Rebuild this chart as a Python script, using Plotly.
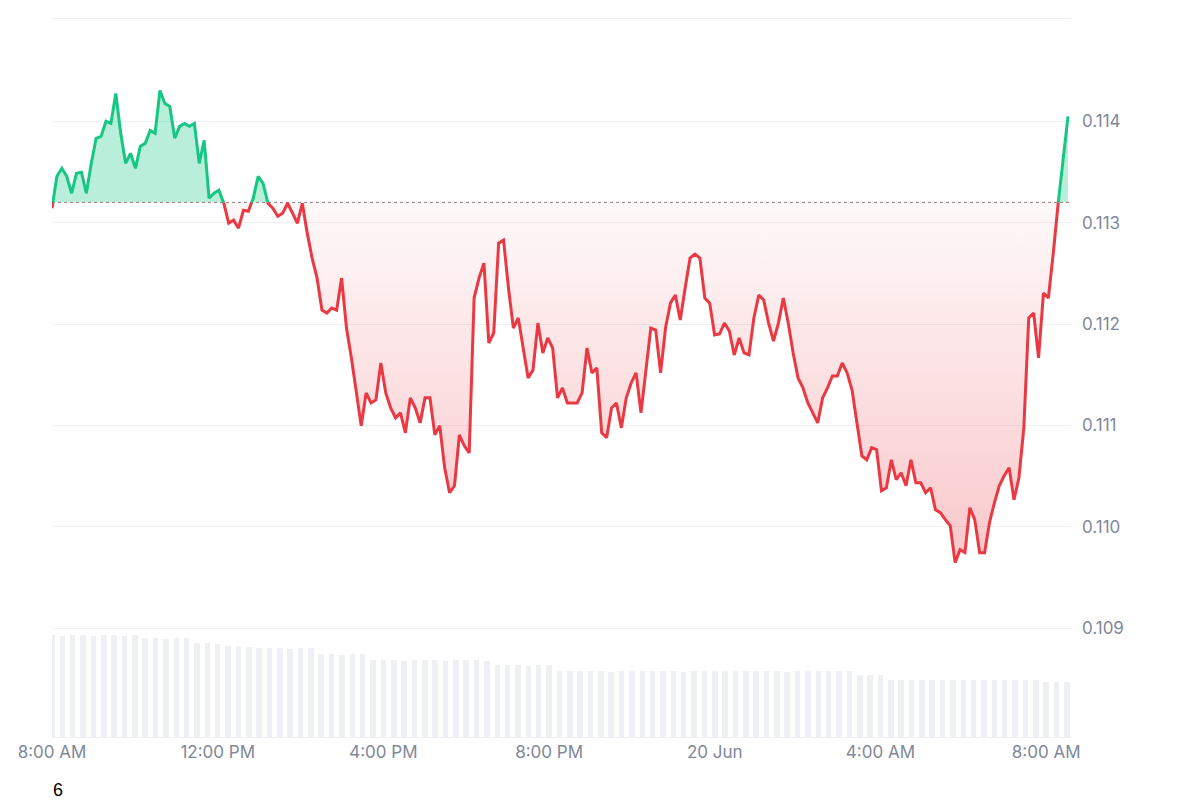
import plotly.graph_objects as go
import pandas as pd
import numpy as np

start = pd.Timestamp("2024-06-19 08:00")
end_line = pd.Timestamp("2024-06-20 08:31:40")
base_price = 0.1132

prices_e5 = [11314.3,11345.8,11353.7,11345.8,11329.1,11348.8,11349.8,11329.1,11358.6,11383.3,11385.2,11400,11398,11427.6,11388.2,11358.6,11368.5,11353.7,11375.4,11378.3,11391.1,11388.2,11430.5,11417.7,11414.8,11383.3,11395.1,11398,11395.1,11398,11358.6,11381.3,11324.2,11329.1,11332,11319.2,11299.5,11302.5,11294.6,11312.3,11311.3,11324.2,11345.8,11338.9,11319.2,11314.3,11306.4,11309.4,11319.2,11309.4,11299.5,11319.2,11289.7,11265.1,11245.4,11213.8,11210.9,11215.8,11213.8,11245.4,11196.1,11166.6,11132.1,11099.6,11132.1,11122.2,11125.2,11161.6,11132.1,11117.3,11107.5,11112.4,11092.7,11127.2,11117.3,11102.5,11127.2,11127.2,11090.7,11099.6,11058.2,11033.6,11040.5,11090.7,11079.9,11072.9,11225.7,11245.4,11260.1,11181.3,11191.2,11279.8,11282.8,11235.5,11196.1,11206,11176.4,11146.9,11154.7,11201,11171.5,11186.3,11176.4,11127.2,11137,11122.2,11122.2,11122.2,11132.1,11176.4,11151.8,11156.7,11092.7,11087.8,11117.3,11122.2,11097.6,11127.2,11141.9,11151.8,11112.4,11156.7,11196.1,11194.1,11151.8,11196.1,11220.7,11228.6,11204,11235.5,11265.1,11269,11265.1,11225.7,11220.7,11189.2,11190.2,11201,11193.2,11169.5,11186.3,11171.5,11169.5,11206,11228.6,11223.7,11201,11183.3,11201,11225.7,11201,11171.5,11146.9,11137,11122.2,11112.4,11102.5,11127.2,11137,11148.8,11148.8,11161.6,11151.8,11135,11102.5,11070,11066.1,11078,11076.1,11035.6,11038.5,11066.1,11046.4,11053.3,11040.5,11066.1,11043.4,11043.4,11033.6,11038.5,11016.8,11013.9,11007,11001.1,10964.6,10977.4,10974.5,11018.8,11007,10974.5,10974.5,11004,11023.7,11040.5,11050.3,11058.2,11026.7,11048.4,11097.6,11206,11210.9,11166.6,11230.6,11225.7,11270,11319.2,11363.6,11404.9]

volume = [102,101,102,102,101,102,102,101,102,99,99,98,99,99,94,94,93,91,91,90,89,89,89,88,89,89,83,83,82,83,83,77,77,77,76,77,77,77,76,77,77,77,76,72,72,72,71,72,72,66,66,66,66,66,65,66,66,66,66,66,66,65,66,66,66,66,66,66,66,66,66,65,66,66,66,66,66,66,62,62,62,57,57,57,57,57,57,57,57,57,57,57,57,57,57,57,55,55,55]

tick_vals = ["2024-06-19 08:00","2024-06-19 12:00","2024-06-19 16:00","2024-06-19 20:00","2024-06-20 00:00","2024-06-20 04:00","2024-06-20 08:00"]
tick_text = ["8:00 AM","12:00 PM","4:00 PM","8:00 PM","20 Jun","4:00 AM","8:00 AM"]

p = np.array(prices_e5) / 1e5
t = pd.date_range(start, end_line, periods=len(p))
ts = t.astype("int64").to_numpy().astype(float)

# insert crossing points so segments switch colour exactly at the baseline
xs, ys = [ts[0]], [p[0]]
for i in range(1, len(p)):
    a, b = p[i-1] - base_price, p[i] - base_price
    if a * b < 0:
        f = a / (a - b)
        xs.append(ts[i-1] + f * (ts[i] - ts[i-1])); ys.append(base_price)
    xs.append(ts[i]); ys.append(p[i])
xs = pd.to_datetime(np.array(xs).astype("int64"))
ys = np.array(ys)
eps = 1e-9
up = np.where(ys >= base_price - eps, ys, np.nan)
dn = np.where(ys <= base_price + eps, ys, np.nan)
upf = np.maximum(ys, base_price)
dnf = np.minimum(ys, base_price)

green = "#16c784"
red = "#ea3943"
x_end = pd.Timestamp("2024-06-20 08:36")

vt = pd.date_range(start, periods=len(volume), freq="15min")

fig = go.Figure()
fig.add_trace(go.Bar(x=vt, y=volume, yaxis="y2", marker=dict(color="rgba(207,212,222,0.35)", line=dict(width=0)), width=8*60*1000, hoverinfo="skip"))
fig.add_trace(go.Scatter(x=xs, y=[base_price]*len(xs), mode="lines", line=dict(width=0), hoverinfo="skip"))
fig.add_trace(go.Scatter(x=xs, y=upf, mode="lines", line=dict(width=0), fill="tonexty", fillcolor="rgba(22,199,132,0.3)", hoverinfo="skip"))
fig.add_trace(go.Scatter(x=xs, y=[base_price]*len(xs), mode="lines", line=dict(width=0), hoverinfo="skip"))
fig.add_trace(go.Scatter(x=xs, y=dnf, mode="lines", line=dict(width=0), fill="tonexty",
    fillgradient=dict(type="vertical", colorscale=[[0, "rgba(234,57,67,0.28)"], [1, "rgba(234,57,67,0.03)"]]), hoverinfo="skip"))
fig.add_trace(go.Scatter(x=[start, x_end], y=[base_price, base_price], mode="lines", line=dict(color="#a07a80", width=1, dash="dot")))
fig.add_trace(go.Scatter(x=xs, y=up, mode="lines", line=dict(color=green, width=3), connectgaps=False))
fig.add_trace(go.Scatter(x=xs, y=dn, mode="lines", line=dict(color=red, width=3), connectgaps=False))

fig.update_layout(
    width=1200, height=800, showlegend=False, plot_bgcolor="white", paper_bgcolor="white",
    margin=dict(l=39, r=137, t=10, b=71), bargap=0,
    font=dict(family="Inter, Roboto, sans-serif", size=17, color="#80889a"),
    xaxis=dict(range=[start, x_end], tickvals=tick_vals, ticktext=tick_text,
               showgrid=False, showline=True, mirror=True, linecolor="#eceef2", linewidth=1, ticks="", zeroline=False),
    yaxis=dict(side="right", range=[0.107926, 0.11501], tickvals=[0.109,0.110,0.111,0.112,0.113,0.114],
               ticktext=["0.109","0.110","0.111","0.112","0.113","0.114"], showgrid=True, gridcolor="#eef0f3",
               zeroline=False, showline=False, ticks="", ticklabelstandoff=10),
    yaxis2=dict(overlaying="y", range=[0, 719], visible=False),
    annotations=[dict(text="6", x=6/1024, y=-53/719, xref="paper", yref="paper", showarrow=False,
                      font=dict(color="black", size=18, family="Liberation Sans"), xanchor="center", yanchor="middle")]
)
fig.write_html("out.html")
